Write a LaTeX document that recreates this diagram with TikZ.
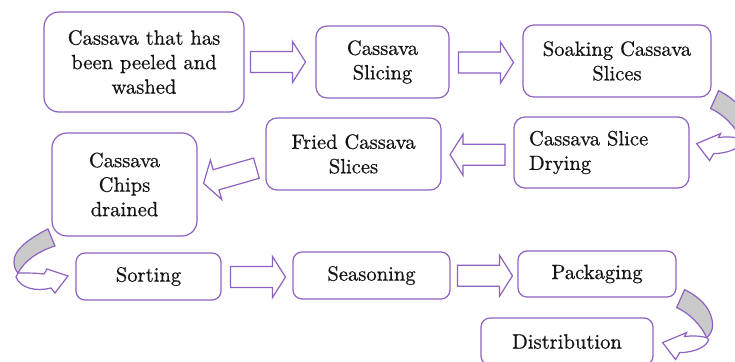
\documentclass[tikz,border=0pt]{standalone}
\usepackage{fontspec}
\setmainfont{Latin Modern Roman}
\newfontfamily\stepfont{Latin Modern Roman}[OpticalSize=10, FakeBold=0.6]
\usetikzlibrary{calc}
\definecolor{boxline}{RGB}{142,98,192}
\definecolor{backband}{RGB}{202,202,202}
\definecolor{ink}{RGB}{20,20,20}
\begin{document}
\begin{tikzpicture}[x=1pt,y=-1pt,
  stepbox/.style={draw=boxline, line width=1.2pt, rounded corners=11pt, fill=white,
    text=ink, align=center, inner sep=0pt, font=\stepfont\fontsize{20.6}{24.5}\selectfont},
  bigbox/.style={stepbox, rounded corners=15pt},
  smallbox/.style={stepbox, rounded corners=9pt},
  arrowline/.style={draw=boxline, line width=1.2pt, fill=white, line join=miter},
  bandline/.style={draw=boxline, line width=1.2pt, fill=backband, line join=round},
  % straight block arrow, 55 long, pointing along +x
  blockarrow/.pic={
    \path[arrowline] (-27.5,-10.5) -- (14.5,-10.5) -- (14.5,-20.5) -- (27.5,0)
      -- (14.5,20.5) -- (14.5,10.5) -- (-27.5,10.5) -- cycle;},
  % curved turning arrow: grey back band, then white front with head pointing left
  turnarrow/.pic={
    \path[bandline] (0,0) .. controls (16,8) and (28,20) .. (28,36)
      .. controls (28,41) and (25,46) .. (22,48)
      .. controls (17,36) and (4,23) .. (-8,18) -- cycle;
    \path[arrowline] (22,48) .. controls (14,46) and (6,46) .. (0,47) -- (2,43)
      -- (-22,53) -- (-9,70) -- (-5,63) .. controls (8,63) and (22,58) .. (24,50) -- cycle;}
]
\fill[white] (0,0) rectangle (735,361);
\useasboundingbox (0,0) rectangle (735,361);

% process steps
\node[bigbox, minimum width=200pt, minimum height=100pt] (peeled) at (144,62)
  {Cassava that has\\been peeled and\\washed};
\node[stepbox, minimum width=133pt, minimum height=72pt] (slicing) at (382.5,62)
  {Cassava\\Slicing};
\node[stepbox, minimum width=188pt, minimum height=72pt] (soaking) at (617,61)
  {Soaking Cassava\\Slices};
\node[stepbox, text width=145pt, inner xsep=15pt, minimum height=71pt, align=left]
  (drying) at (601.5,152.5) {Cassava Slice\\Drying};
\node[stepbox, minimum width=175pt, minimum height=72pt] (fried) at (353.5,154)
  {Fried Cassava\\Slices};
\node[bigbox, minimum width=145pt, minimum height=103pt] (drained) at (124.5,184.5)
  {Cassava\\Chips\\drained};
\node[smallbox, minimum width=145pt, minimum height=47pt] (sorting) at (148.5,276.5)
  {Sorting};
\node[smallbox, minimum width=157pt, minimum height=47pt] (seasoning) at (371.5,275.5)
  {Seasoning};
\node[smallbox, minimum width=158pt, minimum height=46pt] (packaging) at (597,274)
  {Packaging};
\node[smallbox, minimum width=172pt, minimum height=47pt] (distribution) at (567,341.5)
  {Distribution};

% straight block arrows between steps
\pic at ($(peeled.east)!0.5!(slicing.west)+(-2,0)$) {blockarrow};
\pic at ($(slicing.east)!0.5!(soaking.west)+(0,1)$) {blockarrow};
\pic[rotate=180] at ($(drying.west)!0.5!(fried.east)+(0,1.5)$) {blockarrow};
\pic[rotate=196] at ($(fried.west)!0.5!(drained.east)+(-1.5,6.5)$) {blockarrow};
\pic at ($(sorting.east)!0.5!(seasoning.west)+(1,1)$) {blockarrow};
\pic at ($(seasoning.east)!0.5!(packaging.west)+(1,1)$) {blockarrow};

% turning arrows at the row ends
\pic at ($(soaking.south east)+(7,-7)$) {turnarrow};
\pic at ($(packaging.south east)+(8,-8)$) {turnarrow};

% left-hand turn from the drained chips down to sorting
\path[bandline] (48,229) .. controls (30,238) and (13,250) .. (14,262)
  .. controls (14,267) and (16,271) .. (18,273)
  .. controls (24,262) and (36,252) .. (55,246) -- cycle;
\path[arrowline] (18,273) .. controls (28,273) and (36,273) .. (44,274) -- (47,269)
  -- (68,276) -- (55,293) -- (51,288) .. controls (36,292) and (20,288) .. (16,277) -- cycle;
\end{tikzpicture}
\end{document}
